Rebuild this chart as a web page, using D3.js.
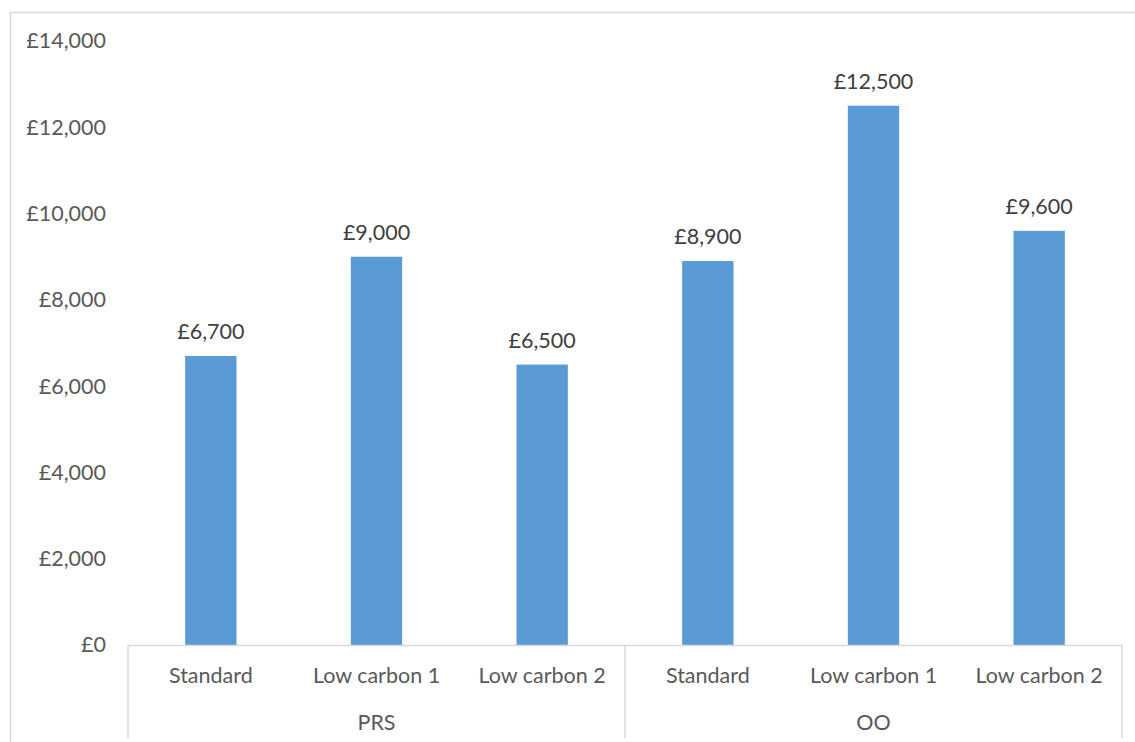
<!DOCTYPE html>
<html>
<head>
<meta charset="utf-8">
<script src="https://cdn.jsdelivr.net/npm/d3@7"></script>
<style>
  html, body { margin: 0; padding: 0; background: #fff; }
  svg { display: block; }
  text { font-family: Lato, "Open Sans", sans-serif; }
</style>
</head>
<body>
<svg id="chart" width="1135" height="742"></svg>
<script>
// Cost per home by scenario, grouped by tenure
const groups = ["PRS", "OO"];
const scenarios = ["Standard", "Low carbon 1", "Low carbon 2"];
const costs = [6700, 9000, 6500, 8900, 12500, 9600];
const yTicks = [0, 2000, 4000, 6000, 8000, 10000, 12000, 14000];

const rows = [];
groups.forEach((g, gi) => scenarios.forEach((s, si) => {
  rows.push({ key: g + "|" + s, group: g, scenario: s, value: costs[gi * scenarios.length + si] });
}));

const svg = d3.select("#chart");
const W = 1135, H = 742;
const m = { left: 128, right: 13, top: 41, bottom: 97 };
const plotBottom = 645;
const fontSize = 21.5;

// outer chart frame
svg.append("rect")
  .attr("x", 10.5).attr("y", 12.5)
  .attr("width", W + 20).attr("height", H + 20)
  .attr("fill", "none").attr("stroke", "#d9d9d9").attr("stroke-width", 1.5);

const x = d3.scaleBand()
  .domain(rows.map(d => d.key))
  .range([m.left, W - m.right])
  .paddingInner(0.69).paddingOuter(0.345);

const y = d3.scaleLinear().domain([0, 14000]).range([plotBottom, m.top]);

const fmt = v => "£" + d3.format(",")(v);

// value axis (labels only)
const yAxis = svg.append("g")
  .attr("transform", `translate(${m.left},0)`)
  .call(d3.axisLeft(y).tickValues(yTicks).tickFormat(fmt).tickSize(0).tickPadding(22));
yAxis.select(".domain").remove();
yAxis.selectAll("text")
  .attr("fill", "#595959").attr("font-size", fontSize);

// bars
svg.append("g").selectAll("rect").data(rows).join("rect")
  .attr("x", d => x(d.key))
  .attr("width", x.bandwidth())
  .attr("y", d => y(d.value))
  .attr("height", d => y(0) - y(d.value))
  .attr("fill", "#5b9bd5");

// data labels
svg.append("g").selectAll("text").data(rows).join("text")
  .attr("x", d => x(d.key) + x.bandwidth() / 2)
  .attr("y", d => y(d.value) - 17)
  .attr("text-anchor", "middle")
  .attr("fill", "#404040").attr("font-size", fontSize)
  .text(d => fmt(d.value));

// category axis: baseline, group dividers, labels
const axisCol = "#d9d9d9";
const axisG = svg.append("g");
const left = m.left, right = W - m.right;
axisG.append("line")
  .attr("x1", left).attr("x2", right)
  .attr("y1", plotBottom + 0.5).attr("y2", plotBottom + 0.5)
  .attr("stroke", axisCol).attr("stroke-width", 1.5);

const step = x.step();
const groupEdges = [left, left + step * scenarios.length, right];
groupEdges.forEach(xe => {
  axisG.append("line")
    .attr("x1", xe).attr("x2", xe)
    .attr("y1", plotBottom).attr("y2", 738)
    .attr("stroke", axisCol).attr("stroke-width", 1.5);
});

axisG.selectAll("text.cat").data(rows).join("text")
  .attr("class", "cat")
  .attr("x", d => x(d.key) + x.bandwidth() / 2)
  .attr("y", 683)
  .attr("text-anchor", "middle")
  .attr("fill", "#595959").attr("font-size", fontSize)
  .text(d => d.scenario);

axisG.selectAll("text.grp").data(groups).join("text")
  .attr("class", "grp")
  .attr("x", (d, i) => (groupEdges[i] + groupEdges[i + 1]) / 2)
  .attr("y", 730)
  .attr("text-anchor", "middle")
  .attr("fill", "#595959").attr("font-size", fontSize)
  .text(d => d);
</script>
</body>
</html>
